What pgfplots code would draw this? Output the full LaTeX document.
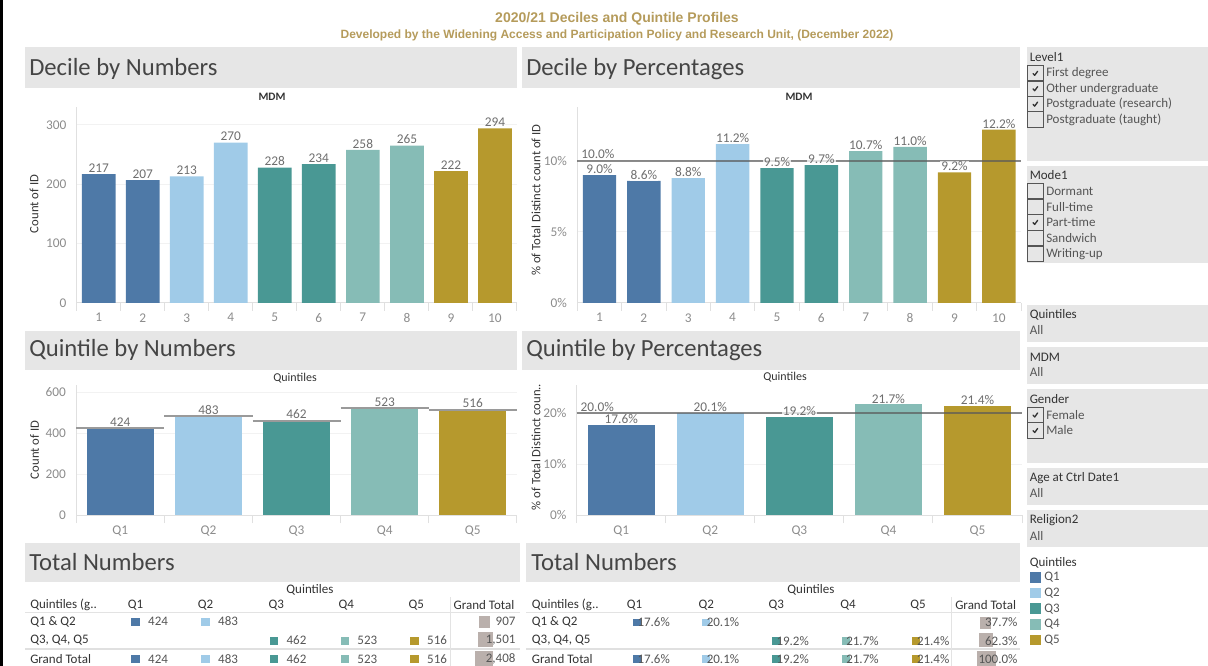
\documentclass[border=0pt]{standalone}
\usepackage{pgfplots}
\pgfplotsset{compat=1.18}
\usepackage{fontspec}
\setmainfont{Carlito}
\newfontfamily\arialf{Liberation Sans}
\definecolor{q1}{HTML}{4E79A7}
\definecolor{q2}{HTML}{A0CBE8}
\definecolor{q3}{HTML}{499894}
\definecolor{q4}{HTML}{86BCB6}
\definecolor{q5}{HTML}{B6992D}
\definecolor{gtg}{HTML}{BAB0AC}
\definecolor{hdr}{HTML}{E6E6E6}
\definecolor{gold}{HTML}{B59B5B}
\definecolor{htxt}{HTML}{454545}
\definecolor{dtxt}{HTML}{333333}
\definecolor{vtxt}{HTML}{555555}
\definecolor{ticktxt}{HTML}{8C8C8C}
\definecolor{labtxt}{HTML}{6E6E6E}
\definecolor{axl}{HTML}{E0E0E0}
\definecolor{gridc}{HTML}{F2F2F2}
\definecolor{refl}{HTML}{5A5A5A}
\definecolor{refq}{HTML}{9A9A9A}
\definecolor{cbx}{HTML}{555555}
\definecolor{tline}{HTML}{E3E3E3}
\newcommand\fs[1]{\fontsize{#1}{#1}\selectfont}
\newcommand\checkitem[3]{%
  \draw[draw=cbx, line width=0.8pt] (1027.8,#1-7.7) rectangle (1043.2,#1+7.7);
  \ifnum#2=1 \draw[line width=1pt, draw=dtxt, line cap=round, line join=round] (1033,#1+0.2) -- (1034.7,#1+2) -- (1037.6,#1-2);\fi
  \node[anchor=west, font=\fs{9.75}, text=vtxt, inner sep=0pt] at (1046,#1) {#3};
}
\pgfplotsset{
  /pgf/number format/assume math mode=true,
  dash/.style={scale only axis, clip=false, enlargelimits=false,
    axis x line*=bottom, axis y line*=left, tick pos=left,
    axis line style={draw=axl, line width=0.75pt},
    x axis line style={-}, y axis line style={-},
    ymajorgrids, grid style={draw=gridc, line width=0.75pt},
    xtick style={draw=none}, ytick style={draw=none},
    minor x tick style={draw=axl, line width=0.75pt},
    tick align=outside, minor tick length=6pt,
    ticklabel style={font=\fs{10}, text=ticktxt},
  },
  bl/.style={nodes near coords, every node near coord/.append style={font=\fs{10}, text=labtxt, inner sep=1pt, anchor=south}},
  pl/.style={nodes near coords={\pgfmathprintnumber[fixed,fixed zerofill,precision=1]{\pgfplotspointmeta}\%},
    every node near coord/.append style={font=\fs{10}, text=labtxt, inner sep=0.8pt, anchor=south, fill=white, fill opacity=0.75, text opacity=1}},
  tv/.style={nodes near coords, point meta=explicit symbolic,
    every node near coord/.style={anchor=west, inner sep=0pt, xshift=9.5pt, font=\fs{9.75}, text=vtxt}},
  tp/.style={nodes near coords, point meta=explicit symbolic,
    every node near coord/.style={anchor=west, inner sep=0pt, xshift=0.4pt, font=\fs{9.75}, text=vtxt}},
  tg/.style={mark=none, draw=none, nodes near coords, point meta=explicit symbolic,
    every node near coord/.style={anchor=east, inner sep=0pt, font=\fs{9.75}, text=vtxt}},
}
\begin{document}
\begin{tikzpicture}[x=0.75pt,y=-0.75pt]
\path[use as bounding box] (0,0) rectangle (1208,666);
\fill[black] (0,0) rectangle (2.5,666);
% titles
\node[font=\arialf\bfseries\fs{10.5}, text=gold, inner sep=0pt] at (617,19) {2020/21 Deciles and Quintile Profiles};
\node[font=\arialf\bfseries\fs{9}, text=gold, inner sep=0pt] at (617,35) {Developed by the Widening Access and Participation Policy and Research Unit, (December 2022)};
% header boxes
\fill[hdr] (25,47) rectangle (517,88);
\fill[hdr] (522,47) rectangle (1020,88);
\fill[hdr] (25,331) rectangle (517,370);
\fill[hdr] (522,331) rectangle (1020,370);
\fill[hdr] (25,543) rectangle (520,582);
\fill[hdr] (526,543) rectangle (1020,582);
\node[anchor=west, inner sep=0pt, font=\fs{18.5}, text=htxt] at (29,69) {Decile by Numbers};
\node[anchor=west, inner sep=0pt, font=\fs{18.5}, text=htxt] at (526,69) {Decile by Percentages};
\node[anchor=west, inner sep=0pt, font=\fs{18.5}, text=htxt] at (29,350) {Quintile by Numbers};
\node[anchor=west, inner sep=0pt, font=\fs{18.5}, text=htxt] at (526,350) {Quintile by Percentages};
\node[anchor=west, inner sep=0pt, font=\fs{18.5}, text=htxt] at (29,562.5) {Total Numbers};
\node[anchor=west, inner sep=0pt, font=\fs{18.5}, text=htxt] at (531,562.5) {Total Numbers};
% chart titles and axis titles
\node[font=\bfseries\fs{8.5}, text=dtxt, inner sep=0pt] at (272,97) {MDM};
\node[font=\bfseries\fs{8.5}, text=dtxt, inner sep=0pt] at (799,97) {MDM};
\node[font=\fs{9}, text=dtxt, inner sep=0pt] at (295,378) {Quintiles};
\node[font=\fs{9}, text=dtxt, inner sep=0pt] at (785,377) {Quintiles};
\node[rotate=90, font=\fs{9.5}, text=dtxt, inner sep=0pt] at (34,204) {Count of ID};
\node[rotate=90, font=\fs{9.5}, text=dtxt, inner sep=0pt] at (536,200) {\% of Total Distinct count of ID};
\node[rotate=90, font=\fs{9.5}, text=dtxt, inner sep=0pt] at (34.5,450) {Count of ID};
\node[rotate=90, font=\fs{9.5}, text=dtxt, inner sep=0pt] at (536,447) {\% of Total Distinct coun..};

% ---------- Decile by Numbers
\begin{axis}[dash, at={(57.525pt,-227.25pt)}, anchor=south west, width=330.2pt, height=147pt,
  xmin=0.5, xmax=10.5, ymin=0, ymax=330,
  xtick={1,...,10}, minor xtick={0.5,1.5,...,10.5}, ytick={0,100,200,300}]
\addplot[ybar, bar width=25.3pt, bar shift=0pt, fill=q1, draw=none, bl] coordinates {(1,217) (2,207)};
\addplot[ybar, bar width=25.3pt, bar shift=0pt, fill=q2, draw=none, bl] coordinates {(3,213) (4,270)};
\addplot[ybar, bar width=25.3pt, bar shift=0pt, fill=q3, draw=none, bl] coordinates {(5,228) (6,234)};
\addplot[ybar, bar width=25.3pt, bar shift=0pt, fill=q4, draw=none, bl] coordinates {(7,258) (8,265)};
\addplot[ybar, bar width=25.3pt, bar shift=0pt, fill=q5, draw=none, bl] coordinates {(9,222) (10,294)};
\end{axis}

% ---------- Decile by Percentages
\begin{axis}[dash, at={(432.975pt,-227.25pt)}, anchor=south west, width=332.8pt, height=147pt,
  xmin=0.5, xmax=10.5, ymin=0, ymax=13.8,
  xtick={1,...,10}, minor xtick={0.5,1.5,...,10.5}, ytick={0,5,10},
  yticklabel={\pgfmathprintnumber{\tick}\%}]
\addplot[ybar, bar width=25pt, bar shift=0pt, fill=q1, draw=none] coordinates {(1,9.0) (2,8.6)};
\addplot[ybar, bar width=25pt, bar shift=0pt, fill=q2, draw=none] coordinates {(3,8.8) (4,11.2)};
\addplot[ybar, bar width=25pt, bar shift=0pt, fill=q3, draw=none] coordinates {(5,9.5) (6,9.7)};
\addplot[ybar, bar width=25pt, bar shift=0pt, fill=q4, draw=none] coordinates {(7,10.7) (8,11.0)};
\addplot[ybar, bar width=25pt, bar shift=0pt, fill=q5, draw=none] coordinates {(9,9.2) (10,12.2)};
\addplot[refl, line width=1.5pt, opacity=0.7] coordinates {(0.5,10) (10.5,10)};
\node[anchor=south west, font=\fs{10}, text=labtxt, fill=white, fill opacity=0.75, text opacity=1, inner sep=0.8pt] at (axis cs:0.56,10.05) {10.0\%};
\addplot[ybar, bar width=25pt, bar shift=0pt, draw=none, fill=none, pl] coordinates {(1,9.0) (2,8.6) (3,8.8) (4,11.2) (5,9.5) (6,9.7) (7,10.7) (8,11.0) (9,9.2) (10,12.2)};
\end{axis}

% ---------- Quintile by Numbers
\begin{axis}[dash, at={(57.225pt,-386.475pt)}, anchor=south west, width=330.4pt, height=97.7pt,
  xmin=0.5, xmax=5.5, ymin=0, ymax=635.6,
  xtick={1,...,5}, xticklabels={Q1,Q2,Q3,Q4,Q5}, minor xtick={0.5,1.5,...,5.5}, ytick={0,200,400,600}]
\addplot[ybar, bar width=50.3pt, bar shift=0pt, fill=q1, draw=none] coordinates {(1,424)};
\addplot[ybar, bar width=50.3pt, bar shift=0pt, fill=q2, draw=none] coordinates {(2,483)};
\addplot[ybar, bar width=50.3pt, bar shift=0pt, fill=q3, draw=none] coordinates {(3,462)};
\addplot[ybar, bar width=50.3pt, bar shift=0pt, fill=q4, draw=none] coordinates {(4,523)};
\addplot[ybar, bar width=50.3pt, bar shift=0pt, fill=q5, draw=none] coordinates {(5,516)};
\addplot[refq, line width=1.5pt] coordinates {(0.5,424) (1.5,424)};
\addplot[refq, line width=1.5pt] coordinates {(1.5,483) (2.5,483)};
\addplot[refq, line width=1.5pt] coordinates {(2.5,462) (3.5,462)};
\addplot[refq, line width=1.5pt] coordinates {(3.5,523) (4.5,523)};
\addplot[refq, line width=1.5pt] coordinates {(4.5,516) (5.5,516)};
\addplot[ybar, bar width=50.3pt, bar shift=0pt, draw=none, fill=none, bl] coordinates {(1,424) (2,483) (3,462) (4,523) (5,516)};
\end{axis}

% ---------- Quintile by Percentages
\begin{axis}[dash, at={(432.525pt,-386.475pt)}, anchor=south west, width=334pt, height=97.7pt,
  xmin=0.5, xmax=5.5, ymin=0, ymax=25.5,
  xtick={1,...,5}, xticklabels={Q1,Q2,Q3,Q4,Q5}, minor xtick={0.5,1.5,...,5.5}, ytick={0,10,20},
  yticklabel={\pgfmathprintnumber{\tick}\%}]
\addplot[ybar, bar width=50.5pt, bar shift=0pt, fill=q1, draw=none] coordinates {(1,17.6)};
\addplot[ybar, bar width=50.5pt, bar shift=0pt, fill=q2, draw=none] coordinates {(2,20.1)};
\addplot[ybar, bar width=50.5pt, bar shift=0pt, fill=q3, draw=none] coordinates {(3,19.2)};
\addplot[ybar, bar width=50.5pt, bar shift=0pt, fill=q4, draw=none] coordinates {(4,21.7)};
\addplot[ybar, bar width=50.5pt, bar shift=0pt, fill=q5, draw=none] coordinates {(5,21.4)};
\addplot[refl, line width=1.5pt, opacity=0.7] coordinates {(0.5,20) (5.5,20)};
\node[anchor=south west, font=\fs{10}, text=labtxt, fill=white, fill opacity=0.75, text opacity=1, inner sep=0.8pt] at (axis cs:0.53,20.1) {20.0\%};
\addplot[ybar, bar width=50.5pt, bar shift=0pt, draw=none, fill=none, pl] coordinates {(1,17.6) (2,20.1) (3,19.2) (4,21.7) (5,21.4)};
\end{axis}

% ---------- tables (pixel coordinate overlay axis)
\draw[tline, line width=0.75pt] (25,612.5) -- (520,612.5);
\draw[tline, line width=0.75pt] (526,612.5) -- (1020,612.5);
\draw[draw=axl, line width=1.2pt] (25,649) -- (520,649);
\draw[draw=axl, line width=1.2pt] (526,649) -- (1020,649);
\draw[tline, line width=0.75pt] (450.5,597) -- (450.5,666);
\draw[tline, line width=0.75pt] (951.7,597) -- (951.7,666);
\begin{axis}[at={(0pt,-499.5pt)}, anchor=south west, scale only axis, width=906pt, height=499.5pt,
  xmin=0, xmax=1208, ymin=-666, ymax=0, hide axis, clip=false, enlargelimits=false]
% left table: counts
\addplot[only marks, mark=square*, mark size=2.74pt, color=q1, tv] coordinates {(135.3,-621.5)[424] (135.3,-659)[424]};
\addplot[only marks, mark=square*, mark size=2.74pt, color=q2, tv] coordinates {(205.3,-621.5)[483] (205.3,-659)[483]};
\addplot[only marks, mark=square*, mark size=2.74pt, color=q3, tv] coordinates {(273.7,-640.5)[462] (273.7,-659)[462]};
\addplot[only marks, mark=square*, mark size=2.74pt, color=q4, tv] coordinates {(344.5,-640.5)[523] (344.5,-659)[523]};
\addplot[only marks, mark=square*, mark size=2.74pt, color=q5, tv] coordinates {(414.3,-640.5)[516] (414.3,-659)[516]};
\addplot[fill=gtg, draw=none] coordinates {(479.3,-615.7) (490,-615.7) (490,-628.3) (479.3,-628.3)};
\addplot[fill=gtg, draw=none] coordinates {(478.3,-632.3) (492.7,-632.3) (492.7,-646.7) (478.3,-646.7)};
\addplot[fill=gtg, draw=none] coordinates {(475,-650.7) (493.3,-650.7) (493.3,-665.7) (475,-665.7)};
\addplot[tg] coordinates {(515.7,-621.5)[907] (515.7,-640.5)[{1,501}] (515.7,-659)[{2,408}]};
% right table: percentages
\addplot[only marks, mark=square*, mark size=2.6pt, color=q1, tp] coordinates {(636.7,-622.3)[17.6\%] (636.7,-659)[17.6\%]};
\addplot[only marks, mark=square*, mark size=2.6pt, color=q2, tp] coordinates {(706,-622.3)[20.1\%] (706,-659)[20.1\%]};
\addplot[only marks, mark=square*, mark size=2.6pt, color=q3, tp] coordinates {(775.7,-641)[19.2\%] (775.7,-659)[19.2\%]};
\addplot[only marks, mark=square*, mark size=2.6pt, color=q4, tp] coordinates {(845.5,-641)[21.7\%] (845.5,-659)[21.7\%]};
\addplot[only marks, mark=square*, mark size=2.6pt, color=q5, tp] coordinates {(916.2,-641)[21.4\%] (916.2,-659)[21.4\%]};
\addplot[fill=gtg, draw=none] coordinates {(980,-616.7) (991,-616.7) (991,-629.3) (980,-629.3)};
\addplot[fill=gtg, draw=none] coordinates {(979,-633.3) (993.3,-633.3) (993.3,-646.7) (979,-646.7)};
\addplot[fill=gtg, draw=none] coordinates {(977.3,-650.7) (995.7,-650.7) (995.7,-666) (977.3,-666)};
\addplot[tg] coordinates {(1017.7,-622.3)[37.7\%] (1017.7,-641)[62.3\%] (1017.7,-659)[100.0\%]};
\end{axis}
% table headers
\node[font=\fs{9.75}, text=dtxt, inner sep=0pt] at (310,590) {Quintiles};
\node[font=\fs{9.75}, text=dtxt, inner sep=0pt] at (811,590) {Quintiles};
\foreach \x/\t in {30/Quintiles (g..,127.7/Q1,197.7/Q2,268.3/Q3,338.3/Q4,408.3/Q5,453.3/Grand Total,
                   531.7/Quintiles (g..,626.7/Q1,698.3/Q2,768.3/Q3,840/Q4,910/Q5,955/Grand Total}
  \node[anchor=west, font=\fs{9.75}, text=dtxt, inner sep=0pt] at (\x,605) {\t};
\foreach \x in {30,531.7}{
  \node[anchor=west, font=\fs{9.75}, text=dtxt, inner sep=0pt] at (\x,622) {Q1 \& Q2};
  \node[anchor=west, font=\fs{9.75}, text=dtxt, inner sep=0pt] at (\x,640.5) {Q3, Q4, Q5};
  \node[anchor=west, font=\fs{9.75}, text=dtxt, inner sep=0pt] at (\x,659) {Grand Total};
}

% ---------- filters panel
\fill[hdr] (1027,47) rectangle (1208,161);
\fill[hdr] (1027,166) rectangle (1208,263);
\fill[hdr] (1027,305) rectangle (1208,342);
\fill[hdr] (1027,347) rectangle (1208,384);
\fill[hdr] (1027,389) rectangle (1208,463);
\fill[hdr] (1027,468) rectangle (1208,505);
\fill[hdr] (1027,510) rectangle (1208,547);
\foreach \y/\t in {57.5/Level1,175/Mode1,315/Quintiles,357/MDM,399/Gender,478.5/Age at Ctrl Date1,520/Religion2,563.3/Quintiles}
  \node[anchor=west, font=\fs{9.75}, text=dtxt, inner sep=0pt] at (1029.5,\y) {\t};
\foreach \y in {330,372,493,536}
  \node[anchor=west, font=\fs{9.75}, text=vtxt, inner sep=0pt] at (1029.5,\y) {All};
\checkitem{73.3}{1}{First degree}
\checkitem{88.7}{1}{Other undergraduate}
\checkitem{104.1}{1}{Postgraduate (research)}
\checkitem{119.5}{0}{Postgraduate (taught)}
\checkitem{191}{0}{Dormant}
\checkitem{206.7}{0}{Full-time}
\checkitem{222.4}{1}{Part-time}
\checkitem{238.1}{0}{Sandwich}
\checkitem{253.8}{0}{Writing-up}
\checkitem{415}{1}{Female}
\checkitem{430.5}{1}{Male}
% legend
\foreach \y/\c/\t in {577.3/q1/Q1,593/q2/Q2,608.7/q3/Q3,624.3/q4/Q4,640/q5/Q5}{
  \fill[\c] (1030,\y-5.3) rectangle (1040.7,\y+5.3);
  \node[anchor=west, font=\fs{9.75}, text=vtxt, inner sep=0pt] at (1044,\y) {\t};
}
\end{tikzpicture}
\end{document}
